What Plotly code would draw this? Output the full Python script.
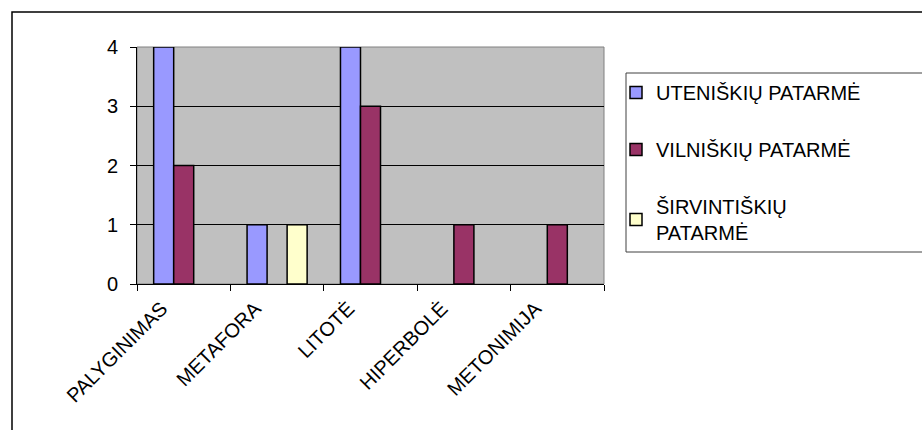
import plotly.graph_objects as go

categories = ["PALYGINIMAS", "METAFORA", "LITOTĖ", "HIPERBOLĖ", "METONIMIJA"]
series_names = ["UTENIŠKIŲ PATARMĖ", "VILNIŠKIŲ PATARMĖ", "ŠIRVINTIŠKIŲ<br>PATARMĖ"]
uteniskiu = [4, 1, 4, 0, 0]
vilniskiu = [2, 0, 3, 1, 1]
sirvintiskiu = [0, 1, 0, 0, 0]
y_ticks = [0, 1, 2, 3, 4]

colors = ["#9999FF", "#993366", "#FFFFCC"]
FONT = "Liberation Sans, Arial, sans-serif"
FS = 20

W, H = 922, 430
L, R, T, B = 137, 318, 47, 146
PW, PH = W - L - R, H - T - B


def px(x):
    return (x - L) / PW


def py(y):
    return (H - B - y) / PH


fig = go.Figure()
for i, (name, vals) in enumerate(zip(series_names, [uteniskiu, vilniskiu, sirvintiskiu])):
    fig.add_trace(go.Bar(
        x=categories,
        # zero-valued bars are not drawn (no outline line at the baseline)
        y=[v if v else None for v in vals],
        name=name,
        marker=dict(color=colors[i], line=dict(color="black", width=1.5)),
        legendgroup=f"g{i}",
    ))

fig.update_layout(
    width=W, height=H,
    margin=dict(l=L, r=R, t=T, b=B, autoexpand=False),
    paper_bgcolor="white",
    plot_bgcolor="#C0C0C0",
    barmode="group",
    bargap=0.357,
    bargroupgap=0,
    font=dict(family=FONT, size=FS, color="black"),
    showlegend=True,
    legend=dict(
        x=px(616), y=py(73), xanchor="left", yanchor="top",
        traceorder="grouped", tracegroupgap=28,
        font=dict(family=FONT, size=FS, color="black"),
        bgcolor="rgba(0,0,0,0)", borderwidth=0,
    ),
    xaxis=dict(
        type="category",
        showline=True, linecolor="black", linewidth=1,
        ticks="outside", ticklen=6, tickcolor="black", tickson="boundaries",
        tickangle=-45, showgrid=False,
        ticklabelshift=-22, ticklabelstandoff=4,
        tickfont=dict(family=FONT, size=FS, color="black"),
    ),
    yaxis=dict(
        range=[0, 4], tickvals=y_ticks,
        showline=True, linecolor="black", linewidth=1,
        ticks="outside", ticklen=6, tickcolor="black",
        showgrid=True, gridcolor="black", gridwidth=1,
        zeroline=False,
        ticklabelstandoff=8,
        tickfont=dict(family=FONT, size=FS, color="black"),
    ),
    shapes=[
        dict(type="rect", xref="paper", yref="paper", x0=0, x1=1, y0=0, y1=1,
             line=dict(color="#808080", width=1), fillcolor="rgba(0,0,0,0)", layer="below"),
        dict(type="rect", xref="paper", yref="paper", x0=px(12), x1=px(930), y0=py(440), y1=py(12),
             line=dict(color="black", width=1.5), fillcolor="rgba(0,0,0,0)"),
        dict(type="rect", xref="paper", yref="paper", x0=px(626), x1=px(930), y0=py(252), y1=py(73),
             line=dict(color="#404040", width=1), fillcolor="rgba(0,0,0,0)"),
    ],
)

fig.write_html("out.html")
